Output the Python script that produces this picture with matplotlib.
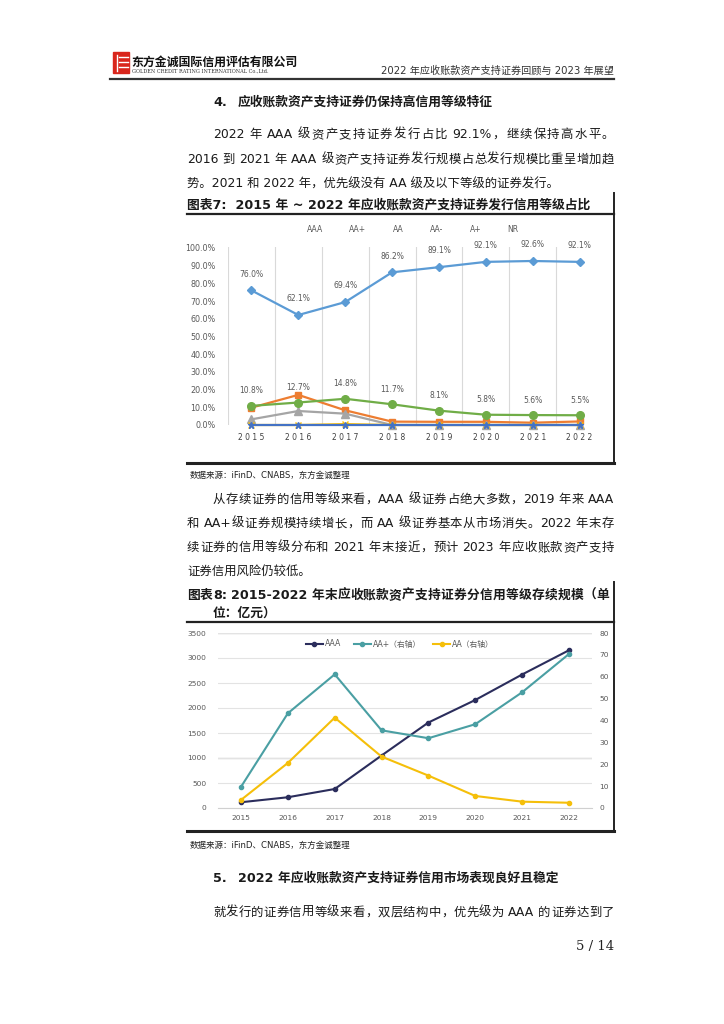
import re
import matplotlib
matplotlib.use('Agg')
import matplotlib.pyplot as plt
from matplotlib.lines import Line2D
from matplotlib.patches import Rectangle

plt.rcParams['font.family'] = ['DejaVu Sans', 'Noto Sans CJK SC']
W, H = 724, 1024

## data
years = ['2015', '2016', '2017', '2018', '2019', '2020', '2021', '2022']
# chart 7: share of issuance by rating (%)
share_AAA = [76.0, 62.1, 69.4, 86.2, 89.1, 92.1, 92.6, 92.1]
share_AAp = [9.8, 17.0, 8.3, 1.9, 1.8, 1.8, 1.3, 2.0]
share_AA = [3.2, 7.9, 6.4, 0.0, 0.0, 0.0, 0.0, 0.0]
share_AAm = [0.0, 0.0, 0.5, 0.0, 0.0, 0.0, 0.0, 0.0]
share_Ap = [0.0, 0.0, 0.0, 0.0, 0.0, 0.0, 0.0, 0.0]
share_NR = [10.8, 12.7, 14.8, 11.7, 8.1, 5.8, 5.6, 5.5]
share_names = ['AAA', 'AA+', 'AA', 'AA-', 'A+', 'NR']
# chart 8: outstanding amount (100m yuan)
amt_AAA = [115, 215, 380, 1050, 1710, 2160, 2670, 3155]
amt_AAp = [9.7, 43.3, 61.1, 35.5, 31.9, 38.3, 52.9, 70.4]
amt_AA = [3.7, 20.6, 41.3, 23.5, 14.8, 5.5, 2.9, 2.4]
amt_names = ['AAA', 'AA+（右轴）', 'AA（右轴）']

fig = plt.figure(figsize=(W / 100, H / 100), dpi=100)
fig.patch.set_facecolor('white')
BODY = 8.9
HEAD = 9.2


def fx(x):
    return x / W


def fy(y):
    return 1 - y / H


def advance(tok, size, **kw):
    if ord(tok[0]) > 0x2E80:
        return size * 100 / 72.0
    r = fig.canvas.get_renderer()
    t1 = fig.text(0, 0, '|' + tok + '|', fontsize=size, **kw)
    t2 = fig.text(0, 0, '||', fontsize=size, **kw)
    w = t1.get_window_extent(r).width - t2.get_window_extent(r).width
    t1.remove()
    t2.remove()
    return w


def put(s, x0, y, x1=None, size=BODY, weight='normal', color='#1a1a1a', ha='left', **kw):
    # y is the baseline in pixels; x1 given -> justified between x0 and x1
    style = dict(weight=weight, color=color, **kw)
    if x1 is None:
        return fig.text(fx(x0), fy(y), s, ha=ha, va='baseline', fontsize=size, **style)
    toks = re.findall(r'[A-Za-z0-9.%+\-~:]+| +|.', s)
    sp = size * 100 / 72.0 * 0.3
    items = []
    for t in toks:
        if t.strip():
            items.append([t, advance(t, size, **style), 0])
        elif items:
            items[-1][2] += sp
    gap = (x1 - x0 - sum(w + e for _, w, e in items)) / (len(items) - 1)
    x = x0
    for t, w, e in items:
        fig.text(fx(x + w / 2), fy(y), t, ha='center', va='baseline', fontsize=size, **style)
        x += w + e + gap


def hline(x0, x1, y, lw=1.5, color='#222222'):
    fig.add_artist(Line2D([fx(x0), fx(x1)], [fy(y), fy(y)], lw=lw, color=color))


def vline(x, y0, y1, lw=1.5, color='#222222'):
    fig.add_artist(Line2D([fx(x), fx(x)], [fy(y0), fy(y1)], lw=lw, color=color))


## header
fig.add_artist(Rectangle((fx(113), fy(73)), 16 / W, 21 / H, color='#d9261c'))
for yy in (57, 62, 67):
    hline(119, 128, yy, lw=1.0, color='white')
vline(117, 55, 71, lw=1.0, color='white')
put('东方金诚国际信用评估有限公司', 131, 66, size=8.6, weight='bold', color='#111111')
put('GOLDEN CREDIT RATING INTERNATIONAL Co.,Ltd.', 132, 72.5, size=3.6, color='#333333', family='serif')
put('2022 年应收账款资产支持证券回顾与 2023 年展望', 614, 74, size=7.3, color='#333333', ha='right')
hline(110, 614, 79, lw=1.6, color='#333333')

## section 4
put('4.', 213, 106, size=HEAD, weight='bold')
put('应收账款资产支持证券仍保持高信用等级特征', 238, 106, size=HEAD, weight='bold')
put('2022 年 AAA 级资产支持证券发行占比 92.1%，继续保持高水平。', 213, 138, x1=614)
put('2016 到 2021 年 AAA 级资产支持证券发行规模占总发行规模比重呈增加趋', 187, 163, x1=614)
put('势。2021 和 2022 年，优先级没有 AA 级及以下等级的证券发行。', 187, 188)
put('图表7:  2015 年 ~ 2022 年应收账款资产支持证券发行信用等级占比', 187, 209, size=HEAD, weight='bold')
hline(187, 614, 213.5, lw=1.6)
vline(614, 193, 463, lw=1.4)
hline(187, 614, 462.5, lw=2.2)

## chart 7
ax1 = fig.add_axes([fx(228), fy(425), (603 - 228) / W, (425 - 247) / H])
xs = list(range(len(years)))
styles = [
    (share_AAA, '#5B9BD5', 'D', 4.5),
    (share_AAp, '#ED7D31', 's', 5),
    (share_AA, '#A5A5A5', '^', 5.5),
    (share_AAm, '#FFC000', 'x', 4.5),
    (share_Ap, '#4472C4', '*', 5),
    (share_NR, '#70AD47', 'o', 5.5),
]
for (vals, c, m, ms), name in zip(styles, share_names):
    ax1.plot(xs, vals, color=c, marker=m, ms=ms, lw=1.6, label=name, clip_on=False)
for i, v in enumerate(share_AAA):
    ax1.annotate('%.1f%%' % v, (i, v), xytext=(0, 8.5), textcoords='offset points',
                 ha='center', va='bottom', fontsize=5.5, color='#595959')
for i, v in enumerate(share_NR):
    ax1.annotate('%.1f%%' % v, (i, v), xytext=(0, 7.5), textcoords='offset points',
                 ha='center', va='bottom', fontsize=5.5, color='#595959')
ax1.set_xlim(-0.5, 7.5)
ax1.set_ylim(0, 100.5)
ax1.set_yticks(range(0, 101, 10))
ax1.set_yticklabels(['%.1f%%' % v for v in range(0, 101, 10)])
ax1.set_xticks(xs)
ax1.set_xticklabels([' '.join(y) for y in years])
ax1.set_xticks([i - 0.5 for i in xs], minor=True)
ax1.grid(True, which='minor', axis='x', color='#d9d9d9', lw=0.8)
ax1.tick_params(axis='both', which='both', length=0)
ax1.tick_params(axis='y', labelsize=5.8, labelcolor='#595959', pad=9)
ax1.tick_params(axis='x', labelsize=5.5, labelcolor='#404040', pad=6)
for s in ax1.spines.values():
    s.set_visible(False)
leg_handles = [Line2D([], [], lw=0, marker=None) for _ in share_names]
ax1.legend(leg_handles, share_names, loc='center', bbox_to_anchor=((410 - 228) / 375, (425 - 229) / 178),
           ncol=6, frameon=False, fontsize=5.5, labelcolor='#595959', handlelength=0.5,
           columnspacing=2.75, handletextpad=0.2)

put('数据来源：iFinD、CNABS，东方金诚整理', 190, 478, size=6.1, color='#222222')

## paragraph 2
put('从存续证券的信用等级来看，AAA 级证券占绝大多数，2019 年来 AAA', 213, 503, x1=614)
put('和 AA+级证券规模持续增长，而 AA 级证券基本从市场消失。2022 年末存', 187, 527, x1=614)
put('续证券的信用等级分布和 2021 年末接近，预计 2023 年应收账款资产支持', 187, 551, x1=614)
put('证券信用风险仍较低。', 187, 575)
put('图表8:  2015-2022 年末应收账款资产支持证券分信用等级存续规模（单', 187, 599, x1=609, size=HEAD, weight='bold')
put('位：亿元）', 213, 617, size=HEAD, weight='bold')
hline(187, 614, 622, lw=1.6)
vline(614, 582, 831, lw=1.4)
hline(187, 614, 830.5, lw=2.2)

## chart 8
ax2 = fig.add_axes([fx(217.6), fy(808), (592.4 - 217.6) / W, (808 - 633) / H])
ax3 = ax2.twinx()
l1, = ax2.plot(xs, amt_AAA, color='#2B2D5C', marker='o', ms=3, lw=1.5)
l2, = ax3.plot(xs, amt_AAp, color='#4A9FA3', marker='o', ms=3, lw=1.5)
l3, = ax3.plot(xs, amt_AA, color='#F5BF0A', marker='o', ms=3, lw=1.5)
ax2.set_xlim(-0.5, 7.5)
ax2.set_ylim(0, 3500)
ax3.set_ylim(0, 80)
ax2.set_yticks(range(0, 3501, 500))
ax3.set_yticks(range(0, 81, 10))
ax2.set_xticks(xs)
ax2.set_xticklabels(years)
ax2.grid(True, axis='y', color='#e3e3e3', lw=0.8)
for v in (1000, 3500):
    ax2.axhline(v, color='#b0b0b0', lw=0.9, zorder=0.5)
ax2.set_axisbelow(True)
for a in (ax2, ax3):
    a.tick_params(axis='both', length=0, labelsize=5.4, labelcolor='#595959')
    for s in a.spines.values():
        s.set_visible(False)
ax2.tick_params(axis='y', pad=8)
ax3.tick_params(axis='y', pad=5)
ax2.tick_params(axis='x', pad=5)
ax2.spines['bottom'].set_visible(True)
ax2.spines['bottom'].set_color('#d0d0d0')
ax3.legend([l1, l2, l3], amt_names, loc='center',
           bbox_to_anchor=((400 - 217.6) / 374.8, (808 - 644) / 175), ncol=3, frameon=False,
           fontsize=5.6, labelcolor='#595959', handlelength=2.2, handletextpad=0.25, columnspacing=1.6)

put('数据来源：iFinD、CNABS，东方金诚整理', 190, 848, size=6.1, color='#222222')

## section 5
put('5.', 213, 882, size=HEAD, weight='bold')
put('2022 年应收账款资产支持证券信用市场表现良好且稳定', 238, 882, size=HEAD, weight='bold')
put('就发行的证券信用等级来看，双层结构中，优先级为 AAA 的证券达到了', 213, 916, x1=614)
put('5 / 14', 614, 950, size=9.5, color='#222222', ha='right', family='serif')

fig.savefig('out.png', dpi=100, facecolor='white')
